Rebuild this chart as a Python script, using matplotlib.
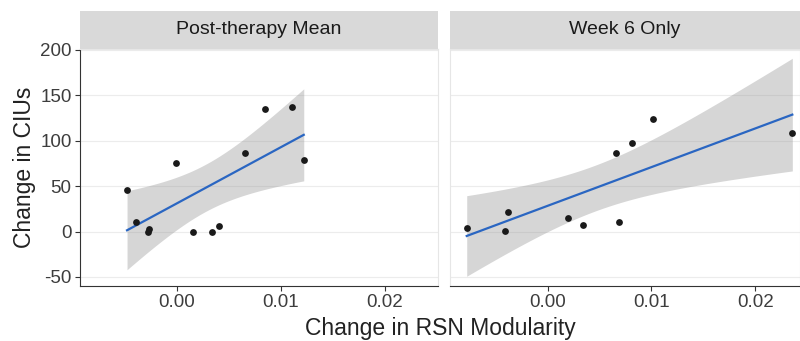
import numpy as np
import matplotlib.pyplot as plt

# data
post_x = [-0.00478, -0.0039, -0.0027, -0.00276, -0.0001, 0.0016, 0.0034, 0.0041,
          0.0066, 0.0085, 0.0111, 0.0122]
post_y = [45.9, 10.4, 3.0, -1.0, 76.0, 0.0, 0.0, 6.0, 86.6, 134.6, 136.8, 79.0]

wk6_x = [-0.00779, -0.0041, -0.00385, 0.00198, 0.00342, 0.00686, 0.00657,
         0.00814, 0.0101, 0.02356]
wk6_y = [3.5, 0.2, 21.4, 14.8, 6.8, 10.4, 86.3, 98.0, 124.0, 109.0]

titles = ["Post-therapy Mean", "Week 6 Only"]
t_crit = {10: 2.228, 8: 2.306}  # 95% t quantiles


def smooth(x, y):
    x = np.asarray(x); y = np.asarray(y)
    n = len(x)
    b, a = np.polyfit(x, y, 1)
    xs = np.linspace(x.min(), x.max(), 100)
    fit = a + b * xs
    res = y - (a + b * x)
    s = np.sqrt((res ** 2).sum() / (n - 2))
    se = s * np.sqrt(1 / n + (xs - x.mean()) ** 2 / ((x - x.mean()) ** 2).sum())
    t = t_crit[n - 2]
    return xs, fit, fit - t * se, fit + t * se


plt.rcParams['font.family'] = ['Liberation Sans', 'DejaVu Sans']
plt.rcParams['axes.unicode_minus'] = False
fig = plt.figure(figsize=(8, 3.41), dpi=100)

W, H = 800, 341
panels = [(80, 438, (-0.0093, 0.0251)), (450, 800, (-0.0094, 0.0243))]
top, bot = 49, 286
strip_top = 11

for i, (px, py) in enumerate([(post_x, post_y), (wk6_x, wk6_y)]):
    x0, x1, xl = panels[i]
    ax = fig.add_axes([x0 / W, (H - bot) / H, (x1 - x0) / W, (bot - top) / H])
    xs, fit, lo, hi = smooth(px, py)
    ax.fill_between(xs, lo, hi, color='#999999', alpha=0.4, lw=0, zorder=1)
    ax.plot(xs, fit, color='#2a66c2', lw=1.6, zorder=3)
    ax.scatter(px, py, s=24, color='#1a1a1a', zorder=4, lw=0)
    ax.set_xlim(*xl)
    ax.set_ylim(-60, 201)
    ax.set_yticks([-50, 0, 50, 100, 150, 200])
    ax.set_xticks([0.0, 0.01, 0.02])
    ax.set_xticklabels(['0.00', '0.01', '0.02'])
    ax.grid(axis='y', color='#ececec', lw=0.8, zorder=0)
    ax.set_axisbelow(True)
    for sp in ['top', 'right']:
        ax.spines[sp].set_color('#e6e6e6')
    ax.spines['bottom'].set_color('#333333')
    ax.tick_params(colors='#333333', labelsize=13.5, length=3.5, width=0.8,
                   labelcolor='#3d3d3d', pad=2.5)
    if i == 0:
        ax.spines['left'].set_color('#333333')
        ax.set_ylabel('Change in CIUs', fontsize=16.5, color='#222222', labelpad=3)
    else:
        ax.spines['left'].set_color('#e6e6e6')
        ax.tick_params(axis='y', left=False, labelleft=False)
    # facet strip
    sax = fig.add_axes([x0 / W, (H - top) / H, (x1 - x0) / W, (top - strip_top) / H])
    sax.set_facecolor('#d9d9d9')
    sax.set_xticks([]); sax.set_yticks([])
    for sp in sax.spines.values():
        sp.set_visible(False)
    sax.text(0.5, 0.5, titles[i], ha='center', va='center', fontsize=14,
             color='#1a1a1a', transform=sax.transAxes)

fig.text(440 / W, 1.5 / H, 'Change in RSN Modularity', ha='center', va='bottom',
         fontsize=16.5, color='#222222')

fig.savefig('out.png', dpi=100)
